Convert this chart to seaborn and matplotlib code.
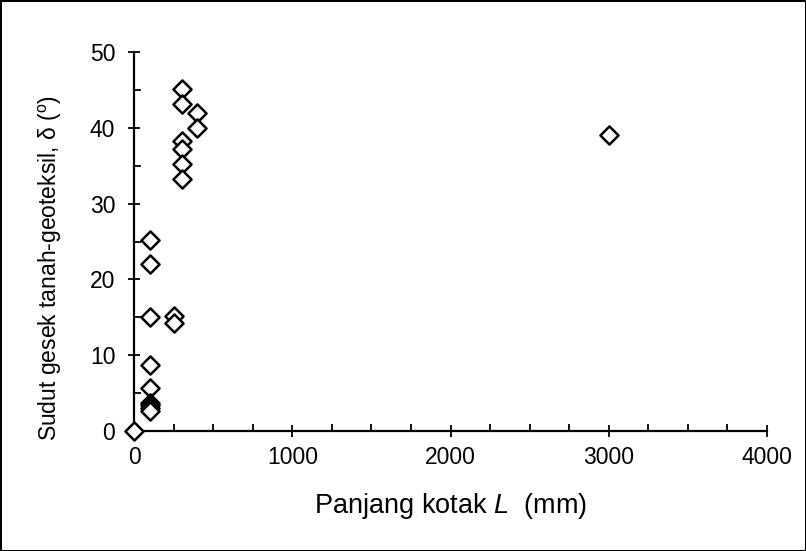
import matplotlib
matplotlib.use("Agg")
import matplotlib.pyplot as plt
from matplotlib.ticker import MultipleLocator
import seaborn as sns
import pandas as pd

# Box length L (mm) and soil-geotextile interface friction angle (degrees)
panjang_kotak = [0,
                 100, 100, 100, 100, 100, 100, 100, 100, 100,
                 250, 250,
                 300, 300, 300, 300, 300, 300,
                 400, 400,
                 3000]
sudut_gesek = [0,
               25.2, 22.0, 15.1, 8.7, 5.7, 3.7, 3.4, 3.0, 2.6,
               15.2, 14.2,
               45.1, 43.2, 38.2, 37.2, 35.2, 33.2,
               41.9, 40.0,
               39.0]

df = pd.DataFrame({"L": panjang_kotak, "delta": sudut_gesek})

sns.set_theme(style="white")
plt.rcParams["font.family"] = ["Liberation Sans", "DejaVu Sans"]
plt.rcParams["mathtext.fontset"] = "custom"
plt.rcParams["mathtext.rm"] = "Liberation Sans"
plt.rcParams["mathtext.it"] = "Liberation Sans:italic"

fig = plt.figure(figsize=(8.06, 5.51), dpi=100, facecolor="white",
                 edgecolor="black", linewidth=1.0)
ax = fig.add_axes([0.1663, 0.2178, 0.7853, 0.6878])

sns.scatterplot(data=df, x="L", y="delta", ax=ax, marker="D", s=85,
                facecolor="white", edgecolor="black", linewidth=1.8,
                zorder=3, clip_on=False)

ax.set_xlim(0, 4000)
ax.set_ylim(0, 50)
ax.xaxis.set_major_locator(MultipleLocator(1000))
ax.xaxis.set_minor_locator(MultipleLocator(250))
ax.yaxis.set_major_locator(MultipleLocator(10))
ax.yaxis.set_minor_locator(MultipleLocator(5))

for side in ("top", "right"):
    ax.spines[side].set_visible(False)
for side in ("left", "bottom"):
    ax.spines[side].set_color("black")
    ax.spines[side].set_linewidth(1.6)

ax.tick_params(which="major", direction="inout", length=9, width=1.3,
               colors="black", labelsize=16.5, left=True, bottom=True)
ax.tick_params(axis="x", which="major", pad=6)
ax.tick_params(axis="y", which="major", pad=9)
ax.tick_params(which="minor", direction="in", length=5, width=1.3,
               colors="black", left=True, bottom=True)

ax.set_xlabel(r"Panjang kotak $L$  (mm)", fontsize=19.5, labelpad=16,
              color="black")
ax.set_ylabel(r"Sudut gesek tanah-geoteksil, δ ($^{\mathrm{o}}$)",
              fontsize=16.5, color="black")
ax.yaxis.set_label_coords(-0.111, 0.43)
ax.grid(False)

fig.savefig("out.png", dpi=100, facecolor="white", edgecolor="black")
